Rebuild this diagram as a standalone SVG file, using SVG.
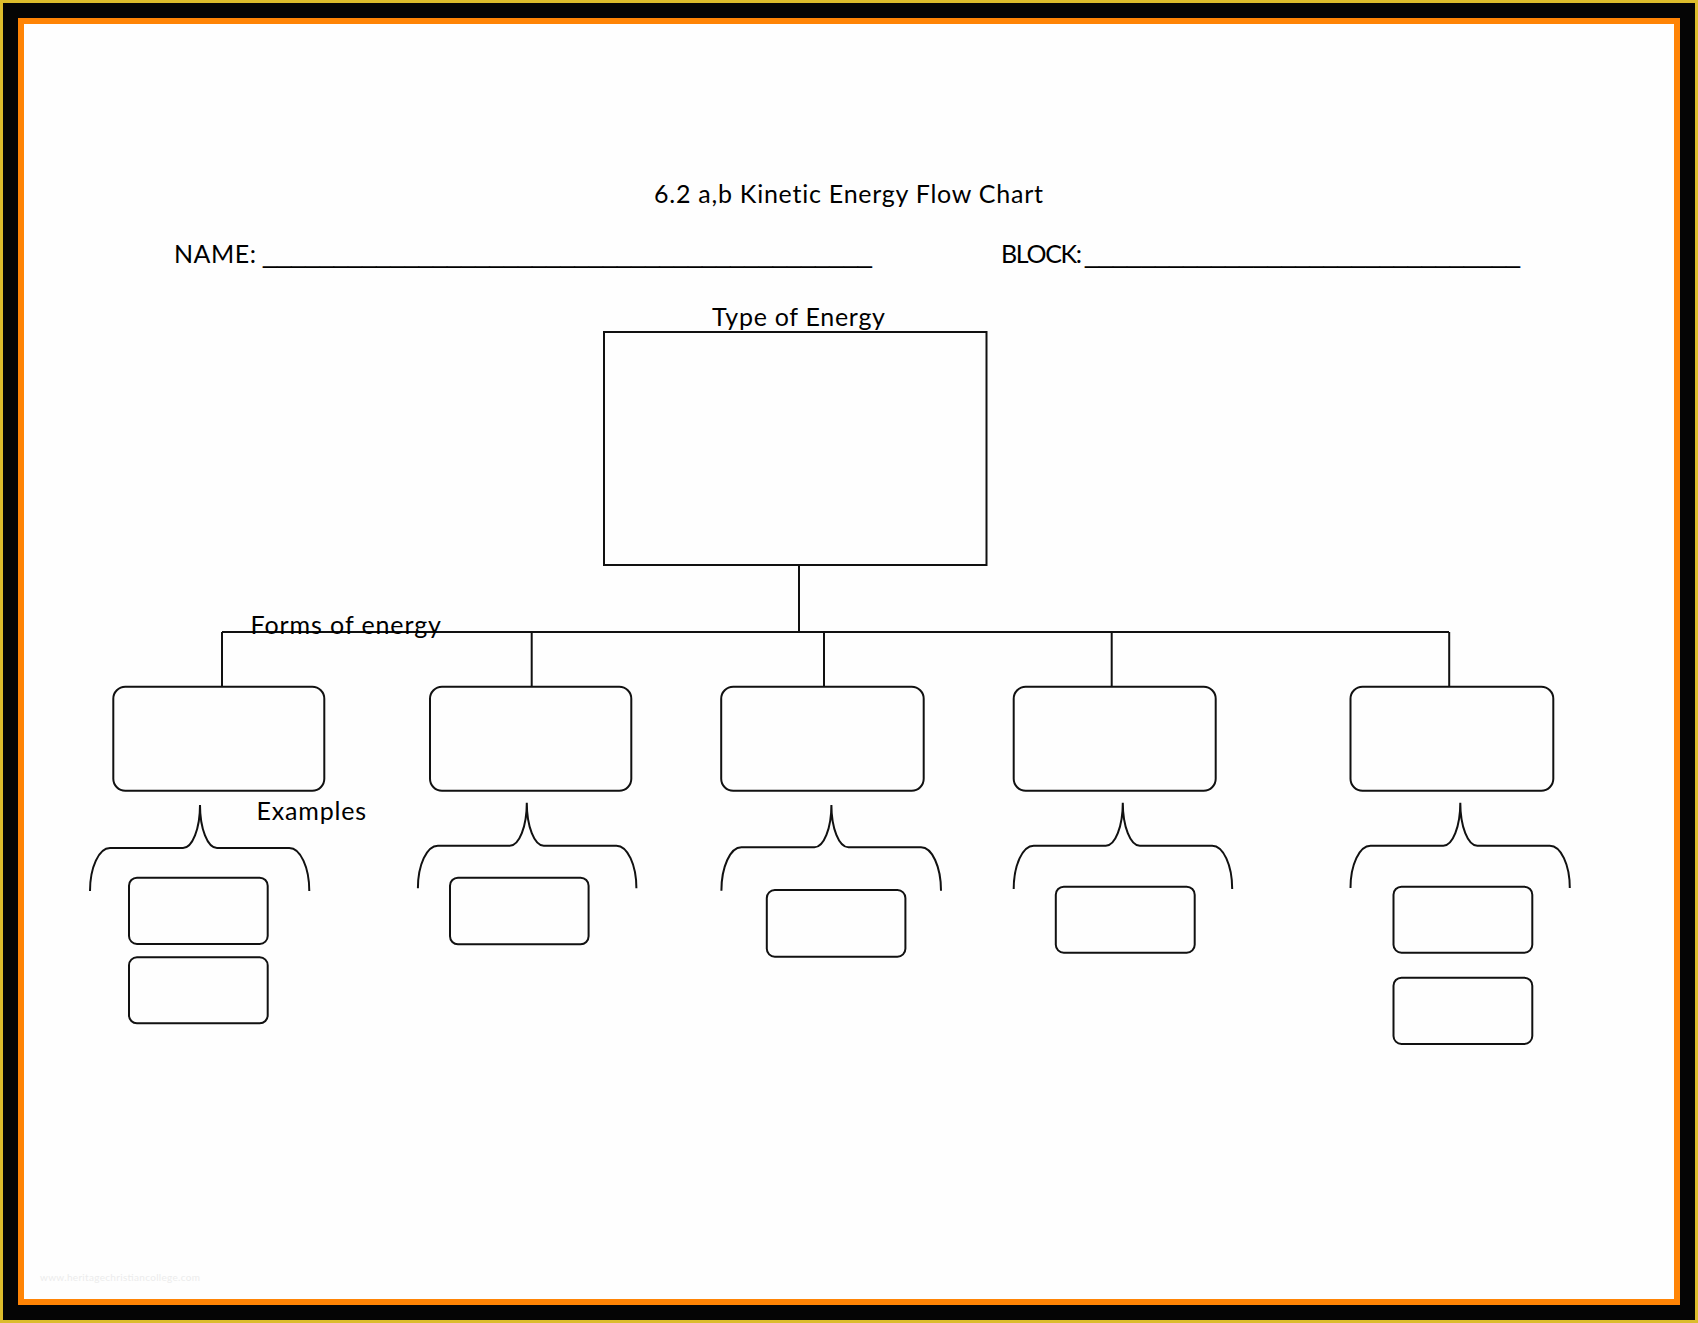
<svg xmlns="http://www.w3.org/2000/svg" width="1698" height="1323" viewBox="0 0 1698 1323">
<style>
.t{font-family:Lato,"Liberation Sans",sans-serif;font-size:25px;fill:#000;font-variant-ligatures:none}
.u{font-family:"Liberation Sans",sans-serif;font-size:25px;fill:#000}
.box{fill:none;stroke:#111;stroke-width:2}
.ln{fill:none;stroke:#111;stroke-width:2}
.br{fill:none;stroke:#111;stroke-width:2}
</style>
<g id="frame">
<rect x="0" y="0" width="1698" height="1323" fill="#dcbc2c"/>
<rect x="3" y="3" width="1692" height="1317" fill="#050505"/>
<rect x="18" y="18" width="1662" height="1287" fill="#ff8405"/>
<rect x="24" y="24" width="1650" height="1275" fill="#fefefe"/>
</g>
<g id="header">
<text class="t" x="654" y="203" textLength="389">6.2 a,b Kinetic Energy Flow Chart</text>
<text class="t" x="174" y="263" textLength="82">NAME:</text>
<text class="u" x="263" y="263" textLength="609" lengthAdjust="spacingAndGlyphs">___________________________________________</text>
<text class="t" x="1001" y="263" textLength="81">BLOCK:</text>
<text class="u" x="1085" y="263" textLength="435" lengthAdjust="spacingAndGlyphs">_______________________________</text>
</g>
<g id="connectors">
<path class="ln" d="M799,565 V632 M222,632 H1449 M222,632 V687 M531.7,632 V687 M824,632 V687 M1111.7,632 V687 M1449.2,632 V687"/>
</g>
<g id="type-of-energy">
<rect class="box" x="604" y="332" width="382.5" height="233"/>
<text class="t" x="712" y="326" textLength="173">Type of Energy</text>
</g>
<g id="forms-label"><text class="t" x="250.5" y="634" textLength="190.5">Forms of energy</text></g>
<g id="examples-label"><text class="t" x="256.5" y="820" textLength="109.5">Examples</text></g>
<g id="form1"><rect class="box" x="113.3" y="686.7" width="211" height="104" rx="12"/></g>
<g id="form2"><rect class="box" x="430" y="686.7" width="201.3" height="104" rx="12"/></g>
<g id="form3"><rect class="box" x="721.2" y="686.7" width="202.5" height="104" rx="12"/></g>
<g id="form4"><rect class="box" x="1013.7" y="686.7" width="202" height="104" rx="12"/></g>
<g id="form5"><rect class="box" x="1350.5" y="686.7" width="202.8" height="104" rx="12"/></g>
<g id="brace1"><path class="br" d="M90,891 A20,43 0 0 1 110,848 H183 A17,43 0 0 0 200,805 A17,43 0 0 0 217,848 H289.3 A20,43 0 0 1 309.3,891"/></g>
<g id="brace2"><path class="br" d="M417.9,888.3 A20,42.6 0 0 1 437.9,845.7 H509.8 A17,43 0 0 0 526.8,802.7 A17,43 0 0 0 543.8,845.7 H616.4 A20,42.6 0 0 1 636.4,888.3"/></g>
<g id="brace3"><path class="br" d="M721.4,890.7 A20,43.4 0 0 1 741.4,847.3 H814.4 A17,42.3 0 0 0 831.4,805 A17,42.3 0 0 0 848.4,847.3 H921 A20,43.4 0 0 1 941,890.7"/></g>
<g id="brace4"><path class="br" d="M1013.7,889 A20,43.3 0 0 1 1033.7,845.7 H1105.8 A17,43 0 0 0 1122.8,802.7 A17,43 0 0 0 1139.8,845.7 H1212.2 A20,43.3 0 0 1 1232.2,889"/></g>
<g id="brace5"><path class="br" d="M1350.5,888 A20,42.3 0 0 1 1370.5,845.7 H1443.3 A17,43 0 0 0 1460.3,802.7 A17,43 0 0 0 1477.3,845.7 H1549.8 A20,42.3 0 0 1 1569.8,888"/></g>
<g id="ex1a"><rect class="box" x="129" y="877.7" width="138.7" height="66.3" rx="8"/></g>
<g id="ex1b"><rect class="box" x="129" y="957.3" width="138.7" height="66" rx="8"/></g>
<g id="ex2a"><rect class="box" x="450" y="877.7" width="138.6" height="66.6" rx="8"/></g>
<g id="ex3a"><rect class="box" x="766.8" y="890" width="138.6" height="66.7" rx="8"/></g>
<g id="ex4a"><rect class="box" x="1055.8" y="886.7" width="138.9" height="66" rx="8"/></g>
<g id="ex5a"><rect class="box" x="1393.5" y="886.7" width="138.8" height="66" rx="8"/></g>
<g id="ex5b"><rect class="box" x="1393.5" y="977.7" width="138.8" height="66.3" rx="8"/></g>
<g id="watermark"><text x="40" y="1281" font-family="Lato,'Liberation Sans',sans-serif" font-size="10" fill="#ececec" textLength="160">www.heritagechristiancollege.com</text></g>
</svg>
